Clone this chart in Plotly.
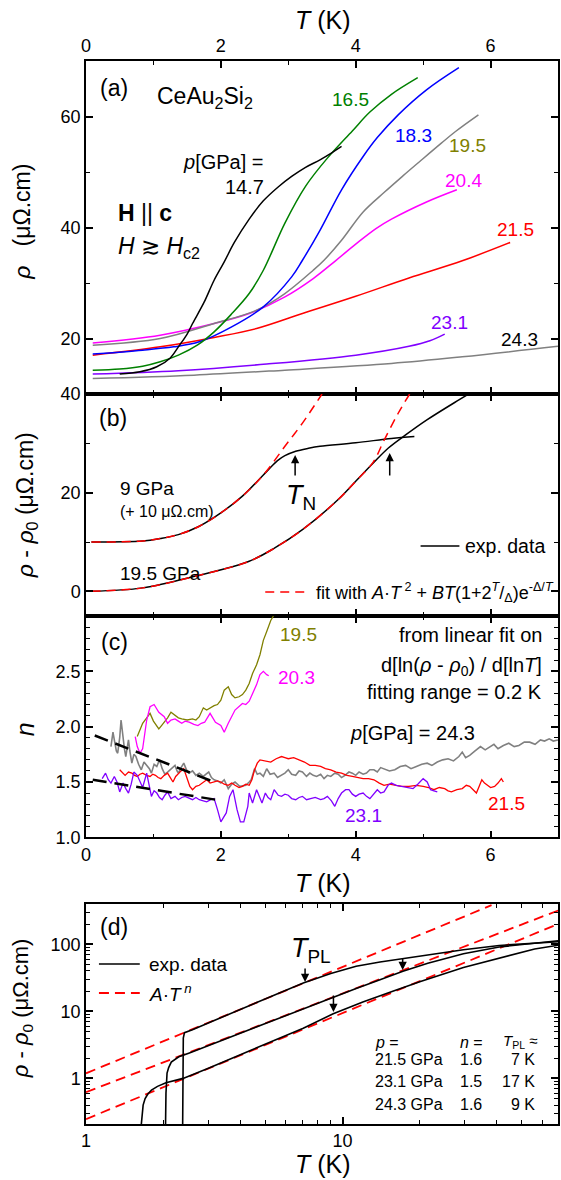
import plotly.graph_objects as go

# ---------------- DATA ----------------
# Panel (a): rho (uOhm.cm) vs T (K) at several pressures (GPa)
a_T_147 = [0.5, 0.8, 1.05, 1.25, 1.37, 1.5, 1.58, 1.75, 1.9, 2.05, 2.2, 2.42, 2.63, 2.85, 3.05, 3.25, 3.47, 3.65, 3.79]
a_r_147 = [13.6, 14.0, 14.9, 16.5, 18.5, 20.8, 22.7, 26.5, 30.5, 33.8, 37.3, 41.5, 44.8, 47.3, 49.2, 50.8, 52.2, 53.5, 54.6]
a_T_165 = [0.1, 0.5, 0.84, 1.1, 1.37, 1.65, 1.9, 2.15, 2.42, 2.63, 2.95, 3.26, 3.58, 3.95, 4.21, 4.53, 4.92]
a_r_165 = [14.3, 14.5, 15.0, 15.8, 17.0, 18.8, 21.2, 24.3, 28.1, 32.3, 40.8, 47.5, 52.5, 57.4, 60.8, 64.0, 67.0]
a_T_183 = [0.1, 0.84, 1.3, 1.68, 2.16, 2.63, 3.05, 3.21, 3.47, 3.79, 4.11, 4.32, 4.63, 5.05, 5.53]
a_r_183 = [17.2, 17.9, 18.5, 19.4, 22.1, 25.7, 31.1, 34.1, 39.5, 46.8, 52.8, 56.2, 60.3, 64.8, 68.8]
a_T_195 = [0.1, 1.1, 1.9, 2.53, 2.95, 3.37, 3.53, 3.79, 4.11, 4.42, 4.7, 4.95, 5.27, 5.48, 5.82]
a_r_195 = [18.8, 20.0, 22.7, 25.1, 28.1, 32.3, 34.1, 37.7, 42.8, 46.3, 49.3, 51.9, 55.2, 57.3, 60.3]
a_T_204 = [0.1, 1.1, 1.9, 2.42, 2.95, 3.37, 3.7, 4.0, 4.3, 4.53, 5.05, 5.5]
a_r_204 = [19.2, 20.6, 22.7, 24.5, 27.5, 30.8, 34.0, 37.0, 39.8, 41.5, 44.6, 46.8]
a_T_215 = [0.1, 1.1, 1.9, 2.53, 3.21, 4.0, 4.79, 5.58, 6.29]
a_r_215 = [17.0, 18.5, 20.2, 21.8, 24.5, 27.6, 30.9, 34.0, 37.3]
a_T_231 = [0.1, 1.37, 2.68, 4.0, 4.79, 5.1, 5.32]
a_r_231 = [13.6, 14.2, 15.4, 17.0, 18.6, 19.6, 20.8]
a_T_243 = [0.1, 1.6, 2.95, 4.53, 5.58, 7.0]
a_r_243 = [12.8, 13.4, 14.3, 15.5, 16.7, 18.6]

# Panel (b): rho - rho0 vs T, exp. data and fits
b_T_9 = [0.08, 0.84, 1.1, 1.37, 1.68, 2.0, 2.32, 2.63, 2.75, 2.84, 2.95, 3.11, 3.3, 3.47, 4.0, 4.53, 4.87]
b_r_9 = [10.0, 10.2, 10.7, 11.5, 13.2, 15.9, 19.3, 23.6, 25.3, 26.5, 27.5, 28.4, 29.0, 29.4, 30.1, 31.0, 31.4]
b_T_9fit = [0.08, 0.84, 1.1, 1.37, 1.68, 2.0, 2.32, 2.63, 2.95, 3.21, 3.5]
b_r_9fit = [10.0, 10.2, 10.7, 11.5, 13.2, 15.9, 19.3, 23.6, 29.4, 34.1, 40.0]
b_T_195 = [0.08, 0.84, 1.63, 2.42, 2.8, 3.21, 3.74, 4.0, 4.26, 4.48, 4.74, 5.05, 5.53, 5.7]
b_r_195 = [0.0, 0.7, 3.1, 6.1, 8.8, 12.5, 18.6, 22.3, 26.0, 29.0, 31.7, 34.7, 38.8, 40.2]
b_T_195fit = [0.08, 0.84, 1.63, 2.42, 2.8, 3.21, 3.74, 4.0, 4.26, 4.42, 4.63, 4.8]
b_r_195fit = [0.0, 0.7, 3.1, 6.1, 8.8, 12.5, 18.6, 22.3, 26.2, 30.6, 36.1, 40.0]

# Panel (c): local exponent n vs T
c_T_195 = [0.76, 0.79, 0.84, 0.9, 0.95, 1.0, 1.04, 1.08, 1.12, 1.16, 1.21, 1.26, 1.32, 1.37, 1.42, 1.5, 1.58, 1.63, 1.68, 1.74, 1.79, 1.84, 1.9, 1.95, 2.0, 2.05, 2.11, 2.16, 2.21, 2.27, 2.32, 2.37, 2.42, 2.47, 2.53, 2.58, 2.63, 2.68, 2.74, 2.78]
c_n_195 = [1.91, 1.95, 2.03, 2.08, 2.12, 2.05, 2.02, 1.98, 2.01, 2.04, 2.08, 2.13, 2.10, 2.08, 2.07, 2.06, 2.07, 2.06, 2.09, 2.17, 2.15, 2.17, 2.19, 2.20, 2.24, 2.33, 2.36, 2.29, 2.26, 2.27, 2.29, 2.33, 2.39, 2.48, 2.56, 2.65, 2.78, 2.86, 2.96, 3.0]
c_T_203 = [0.73, 0.76, 0.8, 0.84, 0.9, 0.95, 1.01, 1.08, 1.16, 1.21, 1.26, 1.32, 1.37, 1.42, 1.47, 1.53, 1.6, 1.66, 1.71, 1.76, 1.84, 1.92, 2.0, 2.05, 2.11, 2.16, 2.21, 2.32, 2.37, 2.42, 2.47, 2.53, 2.58, 2.63, 2.68, 2.71]
c_n_203 = [1.91, 1.82, 1.76, 1.80, 2.06, 2.18, 2.20, 2.13, 2.09, 2.03, 2.06, 2.07, 2.05, 2.03, 2.05, 2.04, 2.02, 2.01, 2.03, 2.04, 2.12, 2.04, 2.01, 1.95, 2.03, 2.09, 2.15, 2.21, 2.20, 2.23, 2.30, 2.38, 2.47, 2.50, 2.47, 2.46]
c_T_243 = [0.37, 0.40, 0.42, 0.45, 0.47, 0.50, 0.52, 0.54, 0.55, 0.57, 0.59, 0.61, 0.63, 0.65, 0.68, 0.71, 0.74, 0.78, 0.82, 0.86, 0.9, 0.94, 0.97, 1.01, 1.05, 1.09, 1.13, 1.17, 1.21, 1.26, 1.32, 1.35, 1.37, 1.41, 1.45, 1.49, 1.53, 1.58, 1.63, 1.68, 1.74, 1.78, 1.82, 1.86, 1.9, 1.95, 2.0, 2.05, 2.11, 2.16, 2.21, 2.28, 2.37, 2.42, 2.45, 2.48, 2.5, 2.54, 2.58, 2.63, 2.68, 2.73, 2.79, 2.84, 2.9, 2.95, 3.0, 3.05, 3.11, 3.16, 3.21, 3.27, 3.32, 3.37, 3.42, 3.48, 3.53, 3.58, 3.63, 3.69, 3.74, 3.79, 3.84, 3.9, 3.95, 4.0, 4.05, 4.11, 4.16, 4.21, 4.27, 4.32, 4.37, 4.42, 4.5, 4.58, 4.66, 4.74, 4.82, 4.9, 4.98, 5.06, 5.13, 5.21, 5.29, 5.37, 5.45, 5.53, 5.58, 5.63, 5.69, 5.77, 5.85, 5.92, 6.0, 6.05, 6.11, 6.19, 6.27, 6.35, 6.42, 6.5, 6.58, 6.66, 6.74, 6.8, 6.87, 6.93, 7.0]
c_n_243 = [1.82, 1.95, 1.88, 1.78, 1.76, 1.90, 2.06, 1.95, 1.88, 1.80, 1.73, 1.82, 1.88, 1.78, 1.67, 1.75, 1.73, 1.66, 1.61, 1.68, 1.65, 1.62, 1.58, 1.66, 1.64, 1.70, 1.62, 1.57, 1.59, 1.62, 1.65, 1.60, 1.58, 1.63, 1.67, 1.61, 1.58, 1.60, 1.56, 1.58, 1.55, 1.57, 1.59, 1.54, 1.52, 1.51, 1.49, 1.52, 1.44, 1.48, 1.50, 1.46, 1.47, 1.50, 1.52, 1.58, 1.62, 1.57, 1.58, 1.55, 1.62, 1.57, 1.58, 1.54, 1.56, 1.58, 1.61, 1.57, 1.56, 1.60, 1.59, 1.55, 1.58, 1.56, 1.55, 1.57, 1.53, 1.56, 1.55, 1.58, 1.57, 1.54, 1.56, 1.59, 1.58, 1.56, 1.59, 1.57, 1.58, 1.61, 1.61, 1.59, 1.63, 1.62, 1.60, 1.61, 1.64, 1.65, 1.62, 1.64, 1.66, 1.67, 1.65, 1.68, 1.70, 1.71, 1.69, 1.73, 1.77, 1.72, 1.74, 1.78, 1.82, 1.79, 1.82, 1.84, 1.80, 1.83, 1.85, 1.82, 1.83, 1.86, 1.86, 1.84, 1.88, 1.87, 1.89, 1.87, 1.88]
c_T_215 = [0.5, 0.54, 0.58, 0.63, 0.68, 0.72, 0.76, 0.8, 0.84, 0.9, 0.95, 0.99, 1.03, 1.07, 1.11, 1.16, 1.21, 1.25, 1.29, 1.33, 1.37, 1.41, 1.45, 1.48, 1.5, 1.54, 1.58, 1.63, 1.68, 1.74, 1.79, 1.84, 1.9, 1.95, 2.0, 2.05, 2.11, 2.16, 2.21, 2.27, 2.32, 2.37, 2.42, 2.46, 2.5, 2.54, 2.58, 2.66, 2.74, 2.82, 2.9, 2.95, 3.0, 3.08, 3.16, 3.24, 3.32, 3.4, 3.48, 3.55, 3.63, 3.71, 3.79, 3.87, 3.95, 4.03, 4.11, 4.19, 4.27, 4.35, 4.42, 4.5, 4.58, 4.68, 4.79, 4.9, 5.0, 5.08, 5.16, 5.24, 5.32, 5.37, 5.42, 5.5, 5.58, 5.64, 5.69, 5.74, 5.79, 5.83, 5.87, 5.91, 5.95, 6.0, 6.06, 6.11, 6.16, 6.19]
c_n_215 = [1.61, 1.58, 1.56, 1.59, 1.58, 1.56, 1.55, 1.57, 1.58, 1.56, 1.55, 1.57, 1.56, 1.54, 1.53, 1.56, 1.58, 1.54, 1.50, 1.55, 1.58, 1.60, 1.62, 1.56, 1.52, 1.46, 1.43, 1.46, 1.47, 1.50, 1.52, 1.49, 1.50, 1.51, 1.50, 1.48, 1.47, 1.49, 1.47, 1.45, 1.46, 1.48, 1.47, 1.52, 1.61, 1.67, 1.70, 1.69, 1.68, 1.71, 1.73, 1.72, 1.71, 1.72, 1.70, 1.68, 1.65, 1.65, 1.64, 1.62, 1.61, 1.59, 1.58, 1.56, 1.55, 1.54, 1.53, 1.53, 1.52, 1.49, 1.47, 1.48, 1.47, 1.46, 1.46, 1.47, 1.46, 1.45, 1.43, 1.45, 1.44, 1.42, 1.41, 1.43, 1.44, 1.47, 1.46, 1.43, 1.40, 1.46, 1.52, 1.49, 1.47, 1.45, 1.46, 1.49, 1.53, 1.50]
c_T_231 = [0.24, 0.29, 0.33, 0.37, 0.42, 0.46, 0.5, 0.55, 0.59, 0.63, 0.67, 0.71, 0.76, 0.8, 0.84, 0.9, 0.94, 0.97, 1.01, 1.05, 1.09, 1.13, 1.17, 1.21, 1.26, 1.32, 1.37, 1.42, 1.47, 1.53, 1.58, 1.63, 1.68, 1.74, 1.79, 1.85, 1.9, 1.95, 2.0, 2.04, 2.08, 2.13, 2.18, 2.24, 2.29, 2.34, 2.4, 2.42, 2.47, 2.53, 2.57, 2.61, 2.66, 2.7, 2.74, 2.79, 2.85, 2.9, 2.95, 3.0, 3.05, 3.11, 3.16, 3.21, 3.27, 3.32, 3.4, 3.48, 3.53, 3.58, 3.64, 3.69, 3.74, 3.79, 3.85, 3.9, 3.95, 4.0, 4.05, 4.11, 4.16, 4.21, 4.27, 4.32, 4.37, 4.42, 4.48, 4.53, 4.6, 4.69, 4.77, 4.85, 4.92, 5.0, 5.06, 5.11, 5.16, 5.21]
c_n_231 = [1.53, 1.58, 1.52, 1.49, 1.55, 1.50, 1.41, 1.49, 1.44, 1.40, 1.48, 1.59, 1.56, 1.50, 1.45, 1.58, 1.47, 1.37, 1.42, 1.40, 1.36, 1.34, 1.38, 1.41, 1.35, 1.37, 1.34, 1.36, 1.37, 1.35, 1.34, 1.36, 1.34, 1.33, 1.32, 1.34, 1.35, 1.25, 1.14, 1.18, 1.22, 1.37, 1.43, 1.25, 1.14, 1.14, 1.28, 1.40, 1.31, 1.43, 1.36, 1.31, 1.40, 1.36, 1.34, 1.43, 1.38, 1.37, 1.39, 1.38, 1.35, 1.34, 1.36, 1.37, 1.34, 1.35, 1.36, 1.34, 1.35, 1.37, 1.33, 1.28, 1.35, 1.40, 1.43, 1.43, 1.39, 1.37, 1.39, 1.40, 1.37, 1.35, 1.39, 1.43, 1.40, 1.41, 1.47, 1.49, 1.47, 1.46, 1.45, 1.44, 1.48, 1.53, 1.50, 1.43, 1.42, 1.41]
c_T_fitA = [0.13, 1.9]
c_n_fitA = [1.92, 1.50]
c_T_fitB = [0.1, 1.92]
c_n_fitB = [1.52, 1.34]

# Panel (d): log-log rho - rho0 vs T, exp. data and A*T^n lines
d_T_215 = [2.38, 2.39, 2.395, 2.42, 2.6, 3.16, 4.35, 5.5, 7.03, 9.0, 11.3, 14.0, 17.2, 21.5, 29.6, 40.8, 55.0, 69.8]
d_r_215 = [0.15, 1.5, 4.0, 4.8, 5.3, 7.3, 12.2, 17.7, 26.5, 36.5, 47.0, 54.5, 61.0, 70.0, 83.0, 96.0, 104.0, 109.0]
d_T_231 = [2.04, 2.05, 2.07, 2.1, 2.15, 2.3, 2.53, 3.5, 5.0, 7.03, 9.0, 11.3, 14.0, 17.2, 21.5, 29.6, 40.8, 55.0, 69.8]
d_r_231 = [0.15, 0.6, 1.2, 1.45, 1.75, 2.1, 2.4, 3.9, 6.6, 10.9, 15.8, 21.9, 29.5, 39.5, 52.0, 72.0, 91.0, 104.0, 113.0]
d_T_243 = [1.63, 1.65, 1.67, 1.7, 1.74, 1.8, 1.9, 2.05, 2.39, 3.0, 4.35, 7.03, 9.2, 12.0, 15.6, 20.0, 29.6, 40.8, 56.1, 69.8]
d_r_243 = [0.15, 0.28, 0.4, 0.5, 0.58, 0.67, 0.76, 0.86, 1.0, 1.42, 2.6, 5.6, 9.2, 13.8, 19.7, 27.5, 45.0, 62.0, 85.0, 97.0]
d_T_fit215 = [1.0, 38.1]
d_r_fit215 = [1.19, 382.0]
d_T_fit231 = [1.0, 69.8]
d_r_fit231 = [0.623, 322.0]
d_T_fit243 = [1.0, 69.8]
d_r_fit243 = [0.247, 203.0]

table_p = ["21.5 GPa", "23.1 GPa", "24.3 GPa"]
table_n = ["1.6", "1.5", "1.6"]
table_Tpl = ["7 K", "17 K", "9 K"]

# ---------------- LAYOUT HELPERS ----------------
FIG_W, FIG_H = 561, 1180
L, RT, TOP, BOT = 86, 560, 61, 1124
PW, PH = RT - L, BOT - TOP
FONT = "Arial, 'Liberation Sans', sans-serif"

def fx(p):
    return (p - L) / PW

def fy(p):
    return (BOT - p) / PH

BLACK = "#000000"; GREEN = "#008000"; BLUE = "#0000ff"; GRAY = "#808080"
MAGENTA = "#ff00ff"; RED = "#ff0000"; VIOLET = "#8000ff"; OLIVE = "#808000"

fig = go.Figure()

def line(x, y, color, xa, ya, width=1.5, dash=None, shape="linear"):
    fig.add_trace(go.Scatter(x=x, y=y, mode="lines", xaxis=xa, yaxis=ya,
                             line=dict(color=color, width=width, dash=dash, shape=shape),
                             showlegend=False, hoverinfo="skip"))

# panel (a)
for T, r, c in [(a_T_243, a_r_243, GRAY), (a_T_231, a_r_231, VIOLET), (a_T_215, a_r_215, RED),
                (a_T_204, a_r_204, MAGENTA), (a_T_195, a_r_195, GRAY), (a_T_183, a_r_183, BLUE),
                (a_T_165, a_r_165, GREEN), (a_T_147, a_r_147, BLACK)]:
    line(T, r, c, "x", "y", shape="spline")

# panel (b)
line(b_T_9, b_r_9, BLACK, "x2", "y2", shape="spline")
line(b_T_195, b_r_195, BLACK, "x2", "y2", shape="spline")
line(b_T_9fit, b_r_9fit, RED, "x2", "y2", dash="9px,6px", shape="spline")
line(b_T_195fit, b_r_195fit, RED, "x2", "y2", dash="9px,6px", shape="spline")

# panel (c)
line(c_T_195, c_n_195, OLIVE, "x3", "y3", width=1.3)
line(c_T_203, c_n_203, MAGENTA, "x3", "y3", width=1.3)
line(c_T_243, c_n_243, GRAY, "x3", "y3", width=1.6)
line(c_T_215, c_n_215, RED, "x3", "y3", width=1.3)
line(c_T_231, c_n_231, VIOLET, "x3", "y3", width=1.3)
line(c_T_fitA, c_n_fitA, BLACK, "x3", "y3", width=2.5, dash="14px,8px")
line(c_T_fitB, c_n_fitB, BLACK, "x3", "y3", width=2.5, dash="14px,8px")

# panel (d)
for T, r in [(d_T_fit215, d_r_fit215), (d_T_fit231, d_r_fit231), (d_T_fit243, d_r_fit243)]:
    line(T, r, RED, "x4", "y4", width=1.8, dash="10px,6px")
for T, r in [(d_T_215, d_r_215), (d_T_231, d_r_231), (d_T_243, d_r_243)]:
    line(T, r, BLACK, "x4", "y4", width=1.6)

# ---------------- AXES ----------------
tickfont = dict(family=FONT, size=18, color="black")
common = dict(showline=True, linecolor="black", linewidth=1.5, ticks="inside", ticklen=7,
              tickwidth=1.5, tickcolor="black", mirror="allticks", showgrid=False,
              zeroline=False, tickfont=tickfont)
minor_common = dict(ticks="inside", ticklen=4, tickwidth=1.2, tickcolor="black", showgrid=False)

dom_a = [fy(394), 1.0]
dom_b = [fy(616), fy(394)]
dom_c = [fy(837.3), fy(616)]
dom_d = [0.0, fy(904)]

lin_x = dict(range=[0, 7], tickvals=[0, 2, 4, 6], minor=dict(dtick=1, tick0=0, **minor_common))

fig.update_layout(
    xaxis=dict(domain=[0, 1], anchor="y", side="top", **lin_x, **common),
    xaxis2=dict(domain=[0, 1], anchor="y2", showticklabels=False, matches="x", **lin_x, **common),
    xaxis3=dict(domain=[0, 1], anchor="y3", side="bottom", matches="x", **lin_x, **common),
    xaxis4=dict(domain=[0, 1], anchor="y4", type="log", range=[0, 1.84], tickvals=[1, 10],
                ticktext=["1", "10"],
                minor=dict(tickvals=[2, 3, 4, 5, 6, 7, 8, 9, 20, 30, 40, 50, 60], **minor_common),
                **common),
    yaxis=dict(domain=dom_a, anchor="x", range=[10, 70], tickvals=[20, 40, 60],
               minor=dict(tickvals=[10, 30, 50, 70], **minor_common), **common),
    yaxis2=dict(domain=dom_b, anchor="x2", range=[-5, 40], tickvals=[0, 20, 40],
                minor=dict(tickvals=[10, 30], **minor_common), **common),
    yaxis3=dict(domain=dom_c, anchor="x3", range=[1, 3], tickvals=[1, 1.5, 2, 2.5],
                ticktext=["1.0", "1.5", "2.0", "2.5"],
                minor=dict(dtick=0.1, tick0=1, **minor_common), **common),
    yaxis4=dict(domain=dom_d, anchor="x4", type="log", range=[-0.68, 2.6], tickvals=[1, 10, 100],
                ticktext=["1", "10", "100"],
                minor=dict(tickvals=[0.3, 0.4, 0.5, 0.6, 0.7, 0.8, 0.9, 2, 3, 4, 5, 6, 7, 8, 9,
                                     20, 30, 40, 50, 60, 70, 80, 90, 200, 300], **minor_common),
                **common),
)

# ---------------- TEXT ----------------
anns = []

def ann(text, x, y, size=19, color="black", xanchor="center", yanchor="middle", angle=0):
    anns.append(dict(text=text, x=fx(x), y=fy(y), xref="paper", yref="paper", showarrow=False,
                     xanchor=xanchor, yanchor=yanchor, textangle=angle,
                     font=dict(family=FONT, size=size, color=color)))

def arrow(x, y, ay):
    anns.append(dict(text="", x=fx(x), y=fy(y), xref="paper", yref="paper", showarrow=True,
                     ax=0, ay=ay, arrowhead=2, arrowsize=1.1, arrowwidth=1.5, arrowcolor="black"))

NB = "\u00a0"
# axis titles
ann("<i>T</i> (K)", 324, 20, size=25)
ann("<i>T</i> (K)", 324, 883, size=25)
ann("<i>T</i> (K)", 324, 1164, size=25)
ann("<i>ρ</i>" + NB * 3 + "(μΩ.cm)", 21.5, 222, size=23, angle=-90)
ann("<i>ρ</i> - <i>ρ</i><sub>0</sub> (μΩ.cm)", 26, 505, size=23, angle=-90)
ann("<i>n</i>", 25, 729, size=25, angle=-90)
ann("<i>ρ</i> - <i>ρ</i><sub>0</sub> (μΩ.cm)", 22, 1008, size=22, angle=-90)

# panel (a)
ann("(a)", 114.5, 88, size=23)
ann("CeAu<sub>2</sub>Si<sub>2</sub>", 155, 97, size=23, xanchor="left")
ann("16.5", 352, 99, color=GREEN)
ann("18.3", 415, 135, color=BLUE)
ann("19.5", 469, 145, color=OLIVE)
ann("20.4", 465, 180, color=MAGENTA)
ann("21.5", 517, 230, color=RED)
ann("<i>p</i>[GPa] =", 267, 162, size=20, xanchor="right")
ann("14.7", 267, 187, size=20, xanchor="right")
ann("<b>H</b> || <b>c</b>", 116, 213, size=23, xanchor="left")
ann("<i>H</i> ≳ <i>H</i><sub>c2</sub>", 116, 248, size=23, xanchor="left")
ann("23.1", 451, 322, color=VIOLET)
ann("24.3", 521, 339)

# panel (b)
ann("(b)", 113, 418, size=23)
ann("9 GPa", 118, 488, xanchor="left")
ann("(+ 10 μΩ.cm)", 118, 512, size=16, xanchor="left")
ann("19.5 GPa", 118, 573, xanchor="left")
ann("<i>T</i><sub>N</sub>", 302, 497, size=27)
arrow(296, 455, 22)
arrow(391, 453, 24)
ann("exp. data", 465, 546, size=19.5, xanchor="left")
ann("fit with <i>A</i>·<i>T</i><sup> 2</sup> + <i>BT</i>(1+2<sup><i>T</i></sup>/<sub>Δ</sub>)e<sup>-Δ/<i>T</i></sup>",
    315, 592, size=18, xanchor="left")

# panel (c)
ann("(c)", 114.5, 642, size=23)
ann("19.5", 299, 635, color=OLIVE)
ann("20.3", 297, 677, color=MAGENTA)
ann("from linear fit on", 546, 635, size=20, xanchor="right")
ann("d[ln(<i>ρ</i> - <i>ρ</i><sub>0</sub>) / d[ln<i>T</i>]", 546, 666, size=20, xanchor="right")
ann("fitting range = 0.2 K", 546, 692, size=20, xanchor="right")
ann("<i>p</i>[GPa] = 24.3", 349, 733, size=20, xanchor="left")
ann("21.5", 508, 803, color=RED)
ann("23.1", 365, 815, color=VIOLET)

# panel (d)
ann("(d)", 114.5, 927, size=23)
ann("exp. data", 147, 964, size=19, xanchor="left")
ann("<i>A</i>·<i>T</i><sup> <i>n</i></sup>", 147, 993, size=19, xanchor="left")
ann("<i>T</i><sub>PL</sub>", 312, 950, size=27)
arrow(306, 982, -15)
arrow(404, 970, -13)
arrow(334.5, 1012, -18)
ann("<i>p</i> =", 374, 1042, size=16, xanchor="left")
ann("<i>n</i> =", 460, 1042, size=16, xanchor="left")
ann("<i>T</i><sub>PL</sub> ≈", 541, 1041, size=15, xanchor="right")
for i, yy in enumerate([1059, 1081, 1104]):
    ann(table_p[i], 374, yy, size=16, xanchor="left")
    ann(table_n[i], 460, yy, size=16, xanchor="left")
    ann(table_Tpl[i], 539, yy, size=16, xanchor="right")

shapes = [
    dict(type="line", xref="paper", yref="paper", x0=fx(422), x1=fx(461), y0=fy(546), y1=fy(546),
         line=dict(color="black", width=1.5)),
    dict(type="line", xref="paper", yref="paper", x0=fx(266), x1=fx(308), y0=fy(592), y1=fy(592),
         line=dict(color=RED, width=1.5, dash="9px,6px")),
    dict(type="line", xref="paper", yref="paper", x0=fx(99), x1=fx(140), y0=fy(964), y1=fy(964),
         line=dict(color="black", width=1.6)),
    dict(type="line", xref="paper", yref="paper", x0=fx(99), x1=fx(140), y0=fy(993), y1=fy(993),
         line=dict(color=RED, width=1.8, dash="10px,6px")),
]

fig.update_layout(width=FIG_W, height=FIG_H, autosize=False,
                  margin=dict(l=L, r=FIG_W - RT, t=TOP, b=FIG_H - BOT, pad=0),
                  paper_bgcolor="white", plot_bgcolor="white",
                  annotations=anns, shapes=shapes, showlegend=False,
                  font=dict(family=FONT, color="black"))

fig.write_html("out.html")
